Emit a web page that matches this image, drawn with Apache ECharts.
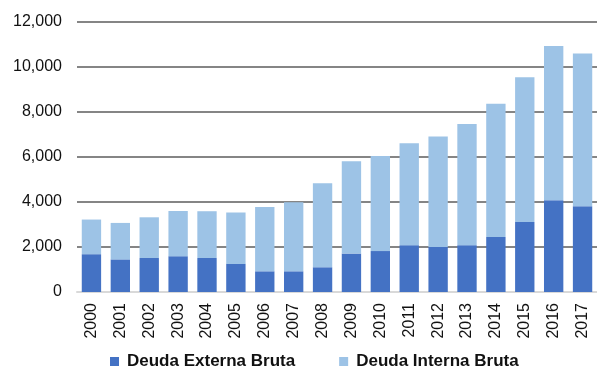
<!DOCTYPE html>
<html>
<head>
<meta charset="utf-8">
<script src="https://cdn.jsdelivr.net/npm/echarts@6/dist/echarts.min.js"></script>
<style>
  html, body { margin: 0; padding: 0; background: #fff; }
  #chart { width: 597px; height: 367px; }
</style>
</head>
<body>
<div id="chart"></div>
<script>
// Años de la serie
const years = ['2000','2001','2002','2003','2004','2005','2006','2007','2008',
               '2009','2010','2011','2012','2013','2014','2015','2016','2017'];

// Deuda externa bruta
const externa = [1680, 1450, 1510, 1590, 1510, 1250, 920, 920, 1100,
                 1710, 1820, 2080, 2000, 2080, 2440, 3110, 4080, 3810];

// Deuda interna bruta
const interna = [1540, 1620, 1810, 2010, 2080, 2280, 2860, 3070, 3730,
                 4100, 4220, 4530, 4910, 5390, 5930, 6430, 6850, 6790];

const seriesNames = ['Deuda Externa Bruta', 'Deuda Interna Bruta'];
const colors = ['#4472C4', '#9DC3E6'];

const chart = echarts.init(document.getElementById('chart'), null, { renderer: 'canvas' });

const fontFamily = '"Liberation Sans", Arial, sans-serif';

chart.setOption({
  animation: false,
  color: colors,
  grid: { left: 77, top: 22, bottom: 75, width: 523 },
  legend: {
    data: seriesNames,
    left: 110,
    top: 353,
    padding: 0,
    itemWidth: 9,
    itemHeight: 9,
    itemGap: 44,
    icon: 'rect',
    textStyle: { fontFamily, fontSize: 17, fontWeight: 'bold', color: '#111', padding: [0, 0, 0, 3] }
  },
  xAxis: {
    type: 'category',
    data: years,
    axisTick: { show: false },
    axisLine: { lineStyle: { color: '#d9d9d9', width: 2 } },
    axisLabel: { rotate: 90, margin: 11, fontFamily, fontSize: 16, color: '#111' }
  },
  yAxis: {
    type: 'value',
    min: 0,
    max: 12000,
    interval: 2000,
    axisLine: { show: false },
    axisTick: { show: false },
    axisLabel: {
      margin: 15,
      fontFamily, fontSize: 16, color: '#111',
      formatter: v => v.toLocaleString('en-US')
    },
    splitLine: { lineStyle: { color: '#858585', width: 2 } }
  },
  series: [
    {
      name: seriesNames[0],
      type: 'bar',
      stack: 'deuda',
      data: externa,
      barCategoryGap: '33%'
    },
    {
      name: seriesNames[1],
      type: 'bar',
      stack: 'deuda',
      data: interna,
      barCategoryGap: '33%'
    }
  ]
});
</script>
</body>
</html>
